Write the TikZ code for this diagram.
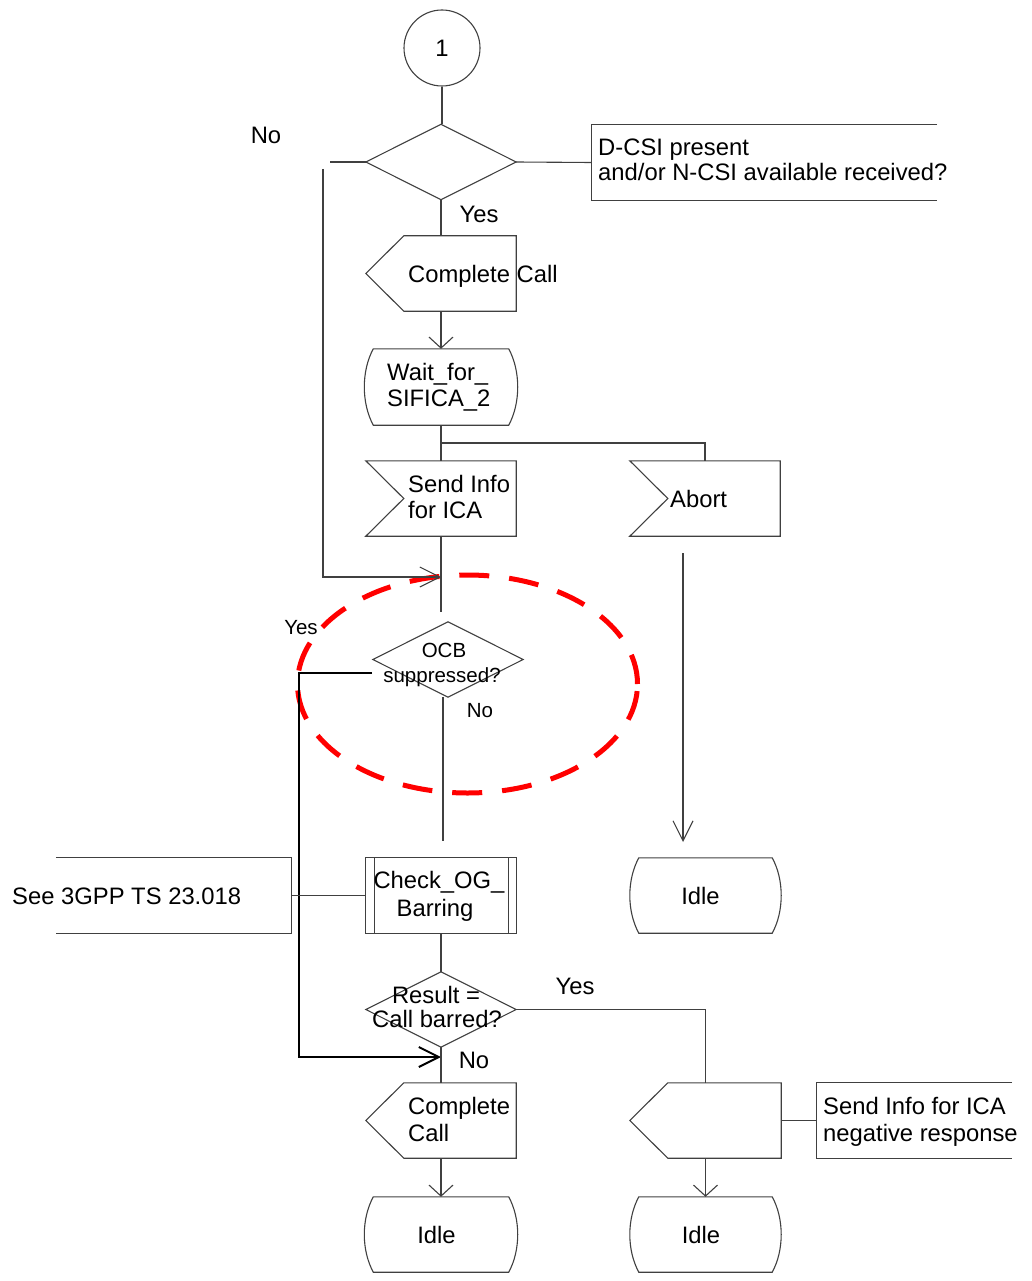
\documentclass[tikz,border=0pt]{standalone}
\usepackage{fontspec}
\setmainfont{Liberation Sans}
\usetikzlibrary{arrows.meta,shapes.geometric}
\begin{document}
\begin{tikzpicture}[x=1pt,y=-1pt,
  ln/.style={draw=black!75, line width=1.1pt},
  thk/.style={draw=black, line width=2pt},
  lbl/.style={inner sep=0pt, text height=17pt, text depth=0pt, font=\fontsize{23.8}{25}\selectfont},
  sml/.style={inner sep=0pt, text height=14.7pt, text depth=0pt, font=\fontsize{20.5}{22}\selectfont},
  frame/.style={draw=none, inner sep=0pt, minimum width=150pt, minimum height=75pt},
  varr/.style={-{Straight Barb[length=11pt,width=24pt]}},
  harr/.style={-{Straight Barb[length=20pt,width=20pt]}},
  hl/.style={ellipse, draw=red, line width=5pt, dash pattern=on 30pt off 20pt, minimum width=340pt, minimum height=218pt, inner sep=0pt}
]
\useasboundingbox (0,0) rectangle (1032,1281);

% ---------- frames (shapes) ----------
\node[circle, ln, minimum size=76pt, lbl] (c1) at (442,48) {1};
\node[frame] (d1) at (441,162) {};
\node[frame, minimum width=345pt] (cm1) at (764.5,162.5) {};
\node[frame] (oc1) at (441,273.5) {};
\node[frame, minimum width=153pt, minimum height=76pt] (w1) at (441,387) {};
\node[frame] (in1) at (441,498.5) {};
\node[frame] (ab) at (705,498.5) {};
\node[frame] (ocb) at (448,659.5) {};
\node[frame] (chk) at (441,895.5) {};
\node[frame, minimum width=235pt] (see) at (173.5,895.5) {};
\node[frame] (res) at (441,1009.5) {};
\node[frame] (oc2) at (441,1120.5) {};
\node[frame, minimum width=151pt] (oc3) at (705.5,1120.5) {};
\node[frame, minimum width=195pt] (cm2) at (914.5,1120.5) {};
\node[frame, minimum width=151pt] (idle1) at (705.5,895.5) {};
\node[frame, minimum width=153pt] (idle2) at (441,1234.5) {};
\node[frame, minimum width=151pt] (idle3) at (705.5,1234.5) {};

% decisions
\draw[ln] (d1.west) -- (d1.north) -- (d1.east) -- (d1.south) -- cycle;
\draw[ln] (ocb.west) -- (ocb.north) -- (ocb.east) -- (ocb.south) -- cycle;
\draw[ln] (res.west) -- (res.north) -- (res.east) -- (res.south) -- cycle;

% comments
\draw[ln] (cm1.north east) -- (cm1.north west) -- (cm1.south west) -- (cm1.south east);
\draw[ln] (cm2.north east) -- (cm2.north west) -- (cm2.south west) -- (cm2.south east);
\draw[ln] (see.north west) -- (see.north east) -- (see.south east) -- (see.south west);

% outputs (pointed left)
\foreach \n in {oc1,oc2,oc3}{
  \draw[ln] (\n.north east) -- (\n.south east) -- ([xshift=38pt]\n.south west) -- (\n.west) -- ([xshift=38pt]\n.north west) -- cycle;
}
% inputs (notched left)
\foreach \n in {in1,ab}{
  \draw[ln] (\n.north west) -- (\n.north east) -- (\n.south east) -- (\n.south west) -- ([xshift=38pt]\n.west) -- cycle;
}
% states
\foreach \n in {w1,idle1,idle2,idle3}{
  \draw[ln] ([xshift=9pt]\n.north west) -- ([xshift=-9pt]\n.north east)
    .. controls ([xshift=3pt,yshift=-22pt]\n.north east) and ([xshift=3pt,yshift=22pt]\n.south east) .. ([xshift=-9pt]\n.south east)
    -- ([xshift=9pt]\n.south west)
    .. controls ([xshift=-3pt,yshift=22pt]\n.south west) and ([xshift=-3pt,yshift=-22pt]\n.north west) .. ([xshift=9pt]\n.north west) -- cycle;
}
% procedure call
\draw[ln] (chk.north west) rectangle (chk.south east);
\draw[ln] ([xshift=9pt]chk.north west) -- ([xshift=9pt]chk.south west);
\draw[ln] ([xshift=-8pt]chk.north east) -- ([xshift=-8pt]chk.south east);

% highlight
\node[hl] (hlt) at (467.5,684) {};

% ---------- connector coordinates ----------
\coordinate (nofree) at (330,162);
\coordinate (br1) at (441,443);
\coordinate (fb1) at (323,169);
\coordinate (m1) at (441,577);
\coordinate (m1b) at (441,612);
\coordinate (y1) at (372,673);
\coordinate (yc) at (299,673);
\coordinate (y2) at (441,1057);
\coordinate (n1a) at (443,697);
\coordinate (n1b) at (443,841);
\coordinate (ab1) at (683,553);
\coordinate (ab2) at (683,842);

% ---------- connectors ----------
\draw[ln] (c1.south) -- (c1.south |- d1.north);
\draw[ln] (d1.west) -- (nofree);
\draw[ln] (d1.east) -- (cm1.west);
\draw[ln] (d1.south) -- (oc1.north);
\draw[ln,varr] (oc1.south) -- (w1.north);
\draw[ln] (w1.south) -- (in1.north);
\draw[ln] (br1) -| (ab.north);
\draw[ln] (in1.south) -- (m1b);
\draw[ln,harr] (fb1) |- (m1);
\draw[thk,harr] (y1) -- (yc) |- (y2);
\draw[ln] (n1a) -- (n1b);
\draw[ln] (see.east) -- (chk.west);
\draw[ln] (chk.south) -- (res.north);
\draw[ln] (res.east) -| (oc3.north);
\draw[ln] (res.south) -- (oc2.north);
\draw[ln] (oc3.east) -- (cm2.west);
\draw[ln,varr] (oc2.south) -- (idle2.north);
\draw[ln,varr] (oc3.south) -- (idle3.north);
\draw[ln,harr] (ab1) -- (ab2);

% ---------- texts ----------
\node[lbl] (tno1) at (266,135) {No};
\node[lbl, anchor=west] (tcm1a) at (598,147) {D-CSI present};
\node[lbl, anchor=west] (tcm1b) at (598,172) {and/or N-CSI available received?};
\node[lbl] (tyes1) at (479,214) {Yes};
\node[lbl, anchor=west] (toc1) at (408,274) {Complete Call};
\node[lbl, anchor=west] (tw1a) at (387,372) {Wait\_for\_};
\node[lbl, anchor=west] (tw1b) at (387,398) {SIFICA\_2};
\node[lbl, anchor=west] (tin1a) at (408,484) {Send Info};
\node[lbl, anchor=west] (tin1b) at (408,510) {for ICA};
\node[lbl, anchor=west] (tab) at (670,499) {Abort};
\node[sml] (tocba) at (444,650) {OCB};
\node[sml] (tocbb) at (442,675) {suppressed?};
\node[sml] (tyes2) at (301,627) {Yes};
\node[sml] (tno2) at (480,710) {No};
\node[lbl] (tchka) at (439,880) {Check\_OG\_};
\node[lbl] (tchkb) at (435,908) {Barring};
\node[lbl, anchor=west] (tsee) at (12,896) {See 3GPP TS 23.018};
\node[lbl] (tidle1) at (700.5,895.5) {Idle};
\node[lbl] (tresa) at (436,995) {Result =};
\node[lbl] (tresb) at (437,1019) {Call barred?};
\node[lbl] (tyes3) at (575,986) {Yes};
\node[lbl] (tno3) at (474,1060) {No};
\node[lbl, anchor=west] (toc2a) at (408,1106) {Complete};
\node[lbl, anchor=west] (toc2b) at (408,1133) {Call};
\node[lbl, anchor=west] (tcm2a) at (823,1106) {Send Info for ICA};
\node[lbl, anchor=west] (tcm2b) at (823,1133) {negative response};
\node[lbl] (tidle2) at (436.5,1235) {Idle};
\node[lbl] (tidle3) at (701,1235) {Idle};
\end{tikzpicture}
\end{document}
